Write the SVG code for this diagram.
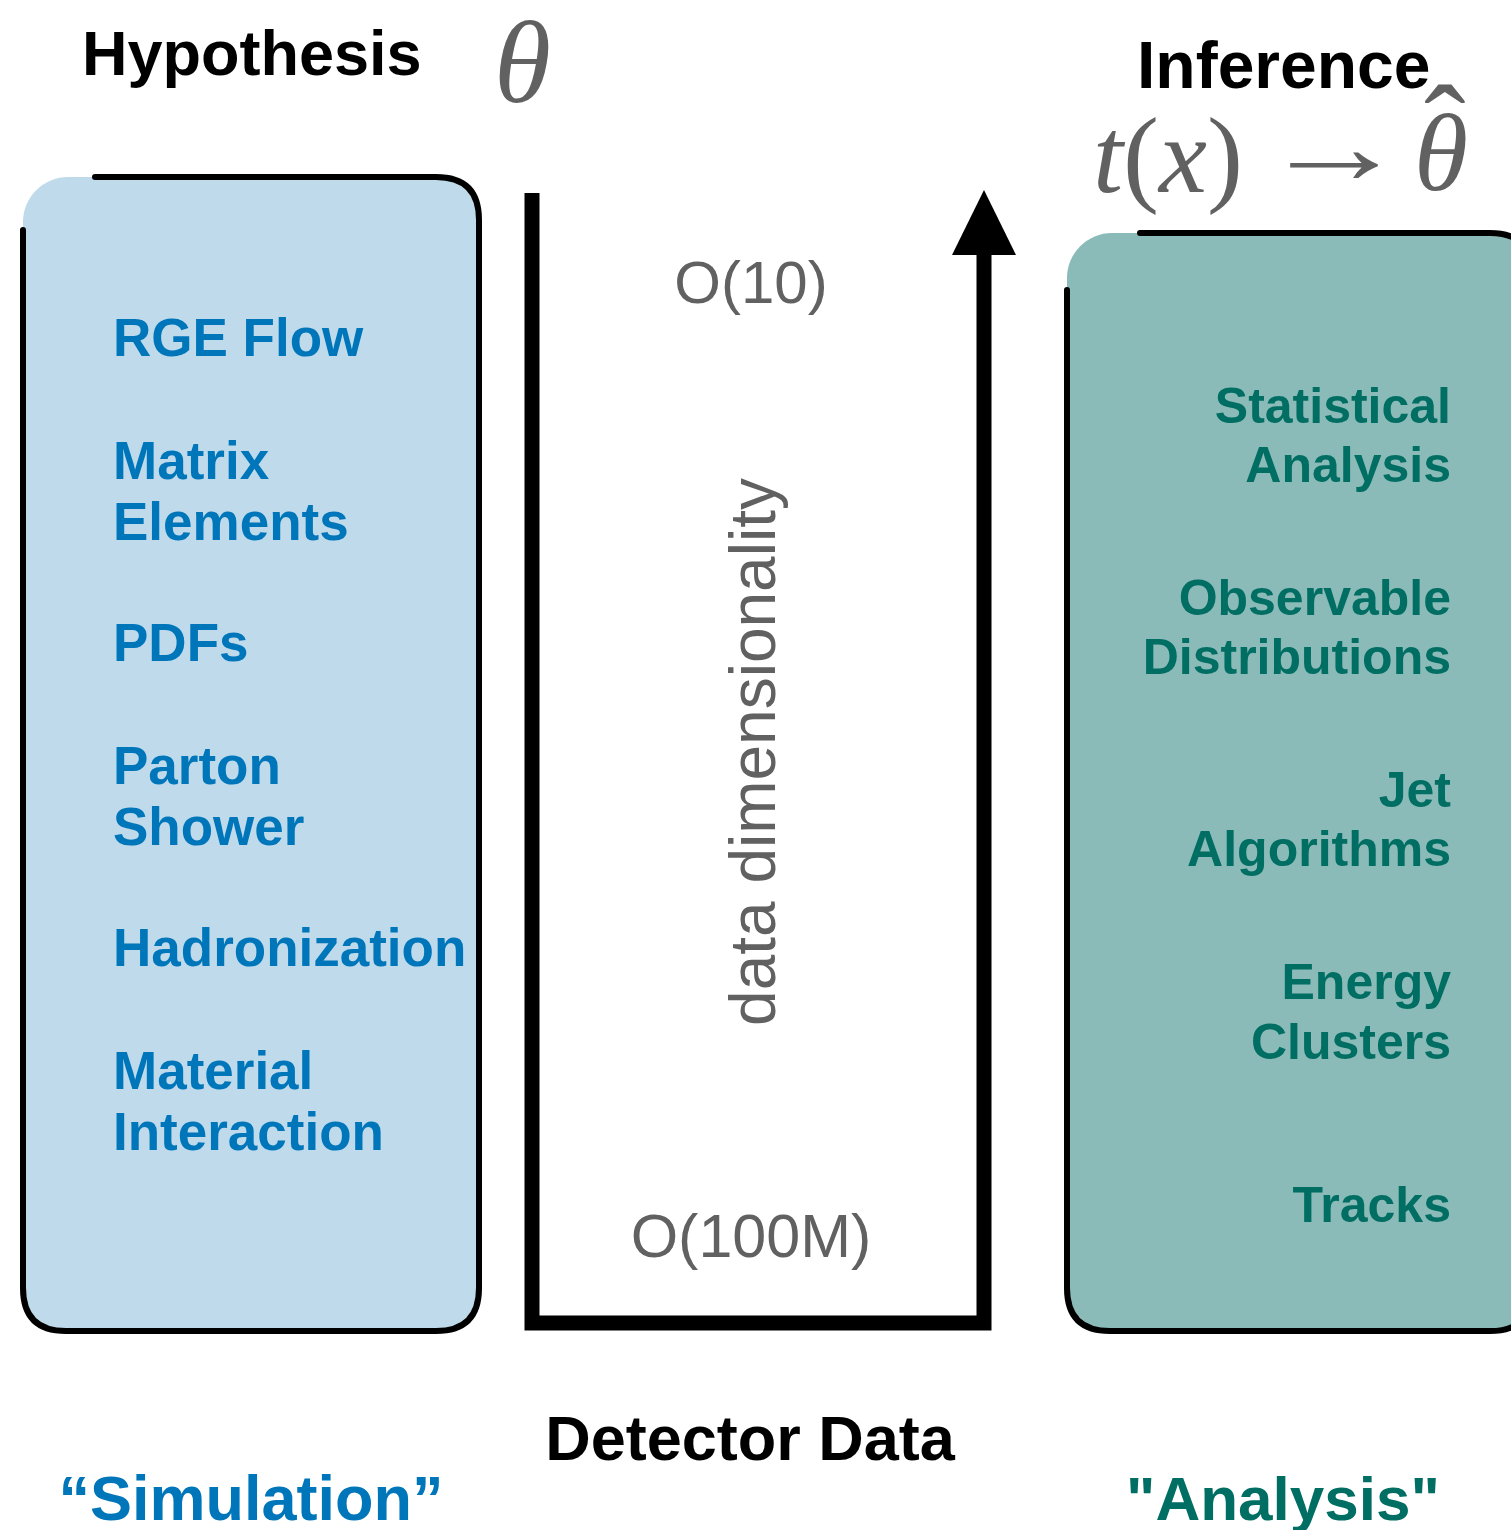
<svg xmlns="http://www.w3.org/2000/svg" width="1511" height="1530" viewBox="0 0 1511 1530">
  <style>
    .head { font-family: "Liberation Sans", Arial, sans-serif; font-weight: bold; fill: #000; }
    .sim { font-family: "Liberation Sans", Arial, sans-serif; font-weight: bold; fill: #0076BA; font-size: 53px; }
    .ana { font-family: "Liberation Sans", Arial, sans-serif; font-weight: bold; fill: #006E63; font-size: 50px; text-anchor: end; }
    .dim { font-family: "Liberation Sans", Arial, sans-serif; fill: #616161; text-anchor: middle; }
    .math { font-family: "Liberation Serif", "Times New Roman", serif; fill: #616161; }
    .edge { fill: none; stroke: #000; stroke-width: 6; stroke-linecap: round; stroke-linejoin: round; }
    .flow { fill: none; stroke: #000; stroke-width: 15; stroke-linejoin: miter; }
  </style>

  <!-- headings -->
  <text class="head" x="82" y="75" font-size="63">Hypothesis</text>
  <text class="math" x="494" y="102" font-size="116" font-style="italic">θ</text>
  <text class="head" x="1137" y="88" font-size="66">Inference</text>
  <g id="estimator" class="math">
    <text x="1093" y="192" font-size="108"><tspan font-style="italic">t</tspan>(<tspan font-style="italic">x</tspan>)</text>
    <text font-size="108" transform="translate(1260,183) scale(1.37,1)">→</text>
    <text x="1414" y="190" font-size="110" font-style="italic">θ</text>
    <text x="1424" y="171" font-size="125">ˆ</text>
  </g>

  <!-- simulation chain -->
  <g id="simulation">
    <rect x="23" y="177" width="456" height="1154" rx="45" fill="#BEDAEB"/>
    <path class="edge" d="M95,177 L436,177 Q479,177 479,220 L479,1288 Q479,1331 436,1331 L66,1331 Q23,1331 23,1288 L23,230"/>
    <text class="sim" x="113" y="356">RGE Flow</text>
    <text class="sim" x="113" y="479">Matrix</text>
    <text class="sim" x="113" y="540">Elements</text>
    <text class="sim" x="113" y="661">PDFs</text>
    <text class="sim" x="113" y="784">Parton</text>
    <text class="sim" x="113" y="845">Shower</text>
    <text class="sim" x="113" y="966">Hadronization</text>
    <text class="sim" x="113" y="1089">Material</text>
    <text class="sim" x="113" y="1150">Interaction</text>
  </g>

  <!-- analysis chain -->
  <g id="analysis">
    <rect x="1067" y="233" width="490" height="1098" rx="45" fill="#8BBBB8"/>
    <path class="edge" d="M1140,233 L1490,233 Q1533,233 1533,276 L1533,1288 Q1533,1331 1490,1331 L1110,1331 Q1067,1331 1067,1288 L1067,290"/>
    <text class="ana" x="1451" y="423">Statistical</text>
    <text class="ana" x="1451" y="482">Analysis</text>
    <text class="ana" x="1451" y="615">Observable</text>
    <text class="ana" x="1451" y="674">Distributions</text>
    <text class="ana" x="1451" y="807">Jet</text>
    <text class="ana" x="1451" y="866">Algorithms</text>
    <text class="ana" x="1451" y="999">Energy</text>
    <text class="ana" x="1451" y="1059">Clusters</text>
    <text class="ana" x="1451" y="1222">Tracks</text>
  </g>

  <!-- data path through the detector -->
  <g id="connectors">
    <path class="flow" d="M532,193 L532,1323 L984,1323 L984,250"/>
    <polygon points="984,190 1016,255 952,255" fill="#000"/>
  </g>

  <g id="dimensionality">
    <text class="dim" x="751" y="303" font-size="60">O(10)</text>
    <text class="dim" x="751" y="1257" font-size="61">O(100M)</text>
    <text class="dim" font-size="64" transform="translate(775,752) rotate(-90)">data dimensionality</text>
  </g>

  <!-- footer labels -->
  <text class="head" x="750" y="1460" font-size="63" text-anchor="middle">Detector Data</text>
  <text x="251" y="1520" font-size="63" text-anchor="middle" font-family="Liberation Sans, Arial, sans-serif" font-weight="bold" fill="#0076BA">“Simulation”</text>
  <text x="1283" y="1520" font-size="62" text-anchor="middle" font-family="Liberation Sans, Arial, sans-serif" font-weight="bold" fill="#006E63">"Analysis"</text>
</svg>
